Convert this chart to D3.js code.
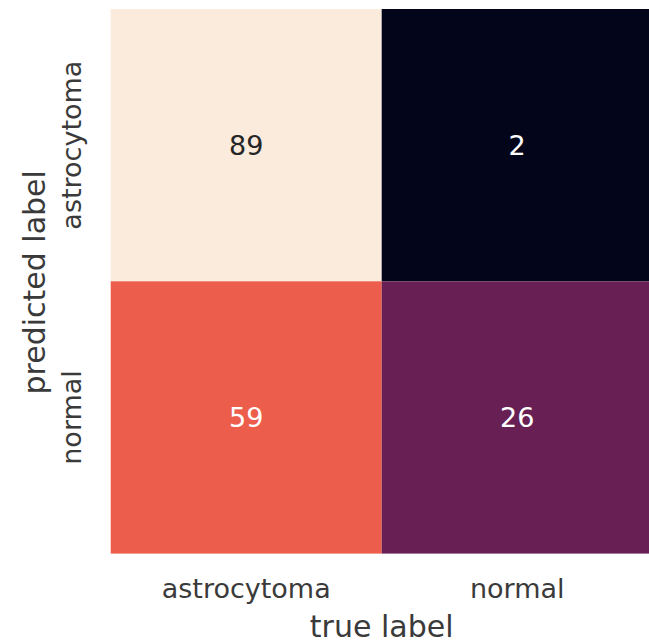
<!DOCTYPE html>
<html>
<head>
<meta charset="utf-8">
<script src="https://cdn.jsdelivr.net/npm/d3@7"></script>
<style>
  html, body { margin: 0; padding: 0; background: #fff; }
  svg { display: block; }
  text { font-family: "DejaVu Sans", sans-serif; }
</style>
</head>
<body>
<svg id="chart" width="649" height="643"></svg>
<script>
// Confusion matrix: rows = predicted label, columns = true label
const trueLabels = ["astrocytoma", "normal"];
const predictedLabels = ["astrocytoma", "normal"];
const counts = [
  [89, 2],
  [59, 26]
];

// "rocket" colormap anchor colours
const rocketStops = ["#03051a", "#35193e", "#6b1f56", "#ad1759", "#e13342", "#f57a53", "#f6b48f", "#faebdd"];
const rocketPos = [0, 1/7, 2/7, 3/7, 4/7, 5/7, 6/7, 1];

const svg = d3.select("#chart");
const plotLeft = 110.7, plotTop = 9, cellW = 271, cellH = 272.3;

const x = d3.scaleBand().domain(trueLabels).range([plotLeft, plotLeft + cellW * 2]).padding(0);
const y = d3.scaleBand().domain(predictedLabels).range([plotTop, plotTop + cellH * 2]).padding(0);

const flat = counts.flat();
const vmin = d3.min(flat), vmax = d3.max(flat);
const norm = d3.scaleLinear().domain([vmin, vmax]).range([0, 1]);
const rocket = d3.scaleLinear().domain(rocketPos).range(rocketStops).interpolate(d3.interpolateRgb);
const color = v => rocket(norm(v));

const cells = [];
predictedLabels.forEach((p, i) => trueLabels.forEach((t, j) => cells.push({ p, t, v: counts[i][j] })));

svg.append("g").selectAll("rect").data(cells).join("rect")
  .attr("x", d => x(d.t))
  .attr("y", d => y(d.p))
  .attr("width", x.bandwidth())
  .attr("height", y.bandwidth())
  .attr("fill", d => color(d.v));

// cell annotations: dark text on light cells, white on dark ones
svg.append("g").selectAll("text").data(cells).join("text")
  .attr("x", d => x(d.t) + x.bandwidth() / 2)
  .attr("y", d => y(d.p) + y.bandwidth() / 2)
  .attr("text-anchor", "middle")
  .attr("dominant-baseline", "central")
  .attr("font-size", 27)
  .attr("fill", d => d3.hsl(color(d.v)).l > 0.7 ? "#262626" : "#ffffff")
  .text(d => d.v);

// x axis (true label) tick labels
const xAxis = d3.axisBottom(x).tickSize(0).tickPadding(0);
const gx = svg.append("g").attr("transform", `translate(0, ${plotTop + cellH * 2})`).call(xAxis);
gx.select(".domain").remove();
gx.selectAll("text")
  .attr("font-family", "DejaVu Sans, sans-serif")
  .attr("font-size", 27)
  .attr("fill", "#3a3a3a")
  .attr("dy", null)
  .attr("y", 44);

// y axis (predicted label) tick labels, rotated
const yAxis = d3.axisLeft(y).tickSize(0).tickPadding(0);
const gy = svg.append("g").attr("transform", `translate(${plotLeft}, 0)`).call(yAxis);
gy.select(".domain").remove();
gy.selectAll("text")
  .attr("font-family", "DejaVu Sans, sans-serif")
  .attr("font-size", 27)
  .attr("fill", "#3a3a3a")
  .attr("x", null).attr("dy", null)
  .attr("text-anchor", "middle")
  .attr("transform", "translate(-39, 0) rotate(-90)")
  .attr("y", 0)
  .attr("dominant-baseline", "central");

// axis titles
svg.append("text")
  .attr("x", plotLeft + cellW)
  .attr("y", 637)
  .attr("text-anchor", "middle")
  .attr("font-size", 30)
  .attr("fill", "#3a3a3a")
  .text("true label");

svg.append("text")
  .attr("transform", `translate(45, ${plotTop + cellH + 1}) rotate(-90)`)
  .attr("text-anchor", "middle")
  .attr("font-size", 30)
  .attr("fill", "#3a3a3a")
  .text("predicted label");
</script>
</body>
</html>
